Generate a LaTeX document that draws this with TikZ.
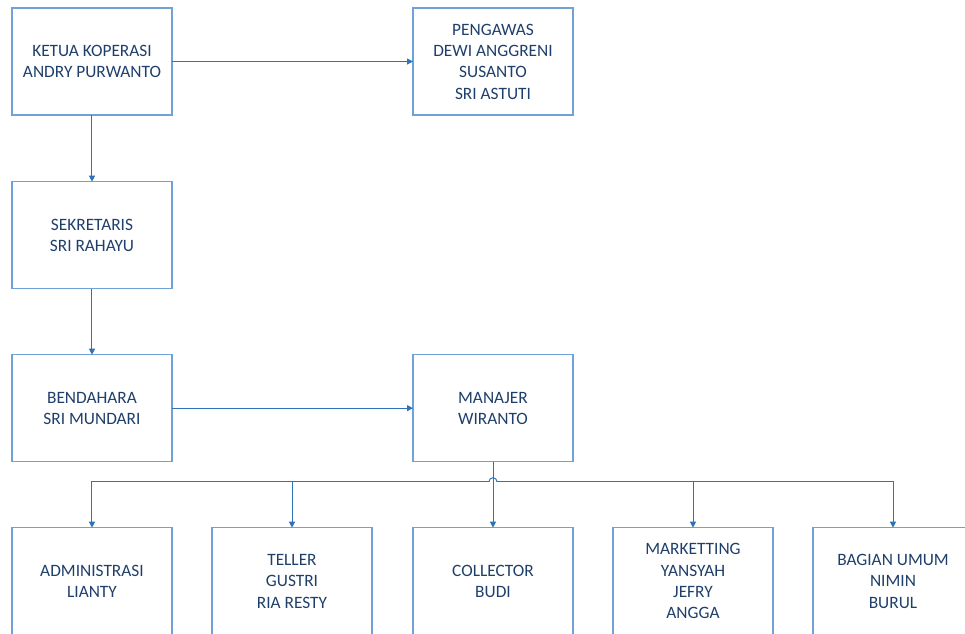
\documentclass[tikz,border=0pt]{standalone}
\usepackage{fontspec}
\setmainfont{Carlito}
\usepackage{xcolor}
\usetikzlibrary{arrows.meta,positioning}

\definecolor{boxline}{HTML}{6FA3D8}
\definecolor{conline}{HTML}{2E73B8}
\definecolor{boxtext}{HTML}{1F3F6B}

\begin{document}
\begin{tikzpicture}[
				node distance=50pt and 180.75pt,
				box/.style={rectangle, draw=boxline, line width=0.9pt, fill=white, outer sep=0pt,
					minimum width=120pt, minimum height=80.25pt, align=center,
					text=boxtext, font=\fontsize{13}{16}\selectfont},
				arrow/.style={-{Triangle[length=4.5pt,width=4.5pt]}, draw=conline, line width=0.75pt},
				conn/.style={draw=conline, line width=0.75pt}
				]
				\useasboundingbox (-69pt,46.125pt) rectangle (654.75pt,-428.625pt);
				\node[box] (ketua) at (0,0)
				{KETUA KOPERASI\\ANDRY PURWANTO};
				\node[box, right=of ketua] (pengawas)
				{PENGAWAS\\DEWI ANGGRENI\\SUSANTO\\SRI ASTUTI};
				\node[box, below=of ketua] (sekretaris)
				{SEKRETARIS\\SRI RAHAYU};
				\node[box, below=49.5pt of sekretaris] (bendahara)
				{BENDAHARA\\SRI MUNDARI};
				\node[box, right=of bendahara] (manajer)
				{MANAJER\\WIRANTO};
				% bottom row
				\node[box, below=49.5pt of bendahara] (admin)
				{ADMINISTRASI\\LIANTY};
				\node[box, right=30pt of admin] (teller)
				{TELLER\\GUSTRI\\RIA RESTY};
				\node[box, right=30.75pt of teller] (collector)
				{COLLECTOR\\BUDI};
				\node[box, right=30pt of collector] (marketing)
				{MARKETTING\\YANSYAH\\JEFRY\\ANGGA};
				\node[box, right=30pt of marketing] (umum)
				{BAGIAN UMUM\\NIMIN\\BURUL};
				\draw[arrow] (ketua) -- (pengawas);
				\draw[arrow] (ketua) -- (sekretaris);
				\draw[arrow] (sekretaris) -- (bendahara);
				\draw[arrow] (bendahara) -- (manajer);
				\coordinate[below=15pt of manajer.south] (bus);
				\draw[arrow] (manajer) -- (collector);
				\draw[conn] ([xshift=-3pt]bus) arc (180:0:3pt);
				\draw[arrow] ([xshift=-3pt]bus) -| (admin);
				\draw[arrow] ([xshift=-3pt]bus) -| (teller);
				\draw[arrow] ([xshift=3pt]bus) -| (marketing);
				\draw[arrow] ([xshift=3pt]bus) -| (umum);
			\end{tikzpicture}
\end{document}
